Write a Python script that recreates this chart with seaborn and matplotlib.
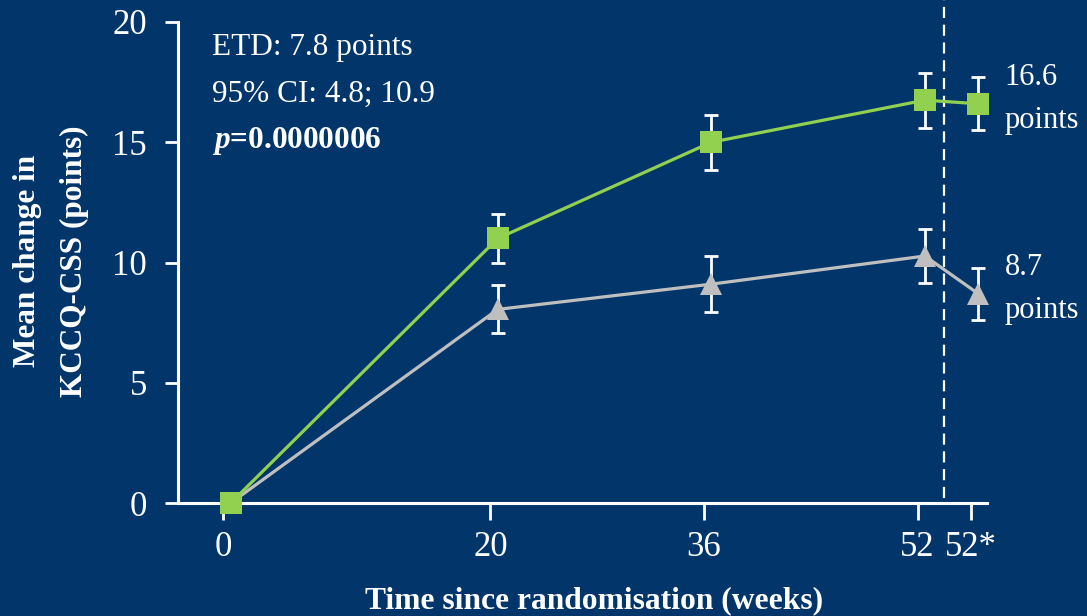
import numpy as np
import pandas as pd
import seaborn as sns
import matplotlib.pyplot as plt

# values
weeks = [0, 20, 36, 52, 56]          # 52* (on-treatment) drawn at 56
tick_labels = ['0', '20', '36', '52', '52*']
treat_mean = [0.0, 11.0, 15.0, 16.75, 16.6]
treat_err = [0.0, 1.0, 1.15, 1.15, 1.1]
placebo_mean = [0.0, 8.05, 9.1, 10.27, 8.7]
placebo_err = [0.0, 1.0, 1.15, 1.12, 1.08]
end_labels = ['16.6', '8.7']
stats_lines = ['ETD: 7.8 points', '95% CI: 4.8; 10.9']
p_text = '=0.0000006'

bg = '#02366A'
green = '#92D050'
grey = '#BFBFBF'
shift = 0.55   # markers sit slightly right of the ticks

sns.set_style('ticks')
plt.rcParams['font.family'] = ['Liberation Serif', 'DejaVu Serif']
plt.rcParams['mathtext.fontset'] = 'custom'
plt.rcParams['mathtext.bfit'] = 'Liberation Serif:italic:bold'
plt.rcParams['mathtext.rm'] = 'Liberation Serif'

df = pd.DataFrame({
    'week': np.array(weeks * 2) + shift,
    'change': placebo_mean + treat_mean,
    'arm': ['Placebo'] * len(weeks) + ['Treatment'] * len(weeks),
})

fig = plt.figure(figsize=(10.87, 6.16), dpi=100, facecolor=bg)
ax = fig.add_axes([178 / 1087, 113 / 616, 809 / 1087, 481 / 616])
ax.set_facecolor(bg)

# error bars (not at baseline)
ax.errorbar(np.array(weeks[1:]) + shift, treat_mean[1:], yerr=treat_err[1:], fmt='none',
            ecolor='white', elinewidth=2, capsize=4.7, capthick=2, zorder=2)
ax.errorbar(np.array(weeks[1:]) + shift, placebo_mean[1:], yerr=placebo_err[1:], fmt='none',
            ecolor='white', elinewidth=2, capsize=4.7, capthick=2, zorder=2)

sns.lineplot(data=df, x='week', y='change', hue='arm', style='arm',
             hue_order=['Placebo', 'Treatment'], style_order=['Placebo', 'Treatment'],
             palette={'Treatment': green, 'Placebo': grey},
             markers={'Treatment': 's', 'Placebo': '^'}, dashes=False,
             markersize=16.5, markeredgewidth=0, linewidth=2.3,
             errorbar=None, legend=False, ax=ax)
for ln in ax.lines:
    if ln.get_color() in (green, grey):
        ln.set_clip_on(False)
        ln.set_zorder(4 if ln.get_color() == green else 3)

# dashed separator between 52 and 52*
ax.axvline(54, ymin=0.01, ymax=1.046, color='white', lw=1.6,
           linestyle=(0, (5, 3)), clip_on=False, zorder=1)

ax.set_xlim(-3.4, 57.2)
ax.set_ylim(0, 20)
ax.set_xticks(weeks)
ax.set_xticklabels(tick_labels)
ax.set_yticks([0, 5, 10, 15, 20])
ax.set_xlabel('')
ax.set_ylabel('')

for s in ['top', 'right']:
    ax.spines[s].set_visible(False)
for s in ['left', 'bottom']:
    ax.spines[s].set_color('white')
    ax.spines[s].set_linewidth(2.2)
ax.tick_params(axis='y', colors='white', labelsize=25, length=9.5, width=2, pad=13)
ax.tick_params(axis='x', colors='white', labelsize=25, length=12, width=2, pad=8)

# end-of-line labels
for val, txt in zip([treat_mean[-1], placebo_mean[-1]], end_labels):
    ax.annotate(txt, xy=(weeks[-1] + shift, val), xytext=(19, 13.5), textcoords='offset points',
                ha='left', va='baseline', color='white', fontsize=22)
    ax.annotate('points', xy=(weeks[-1] + shift, val), xytext=(19, -17.5), textcoords='offset points',
                ha='left', va='baseline', color='white', fontsize=22)

# statistics box text
for i, line in enumerate(stats_lines):
    fig.text(212 / 1087, 1 - (55 + 47 * i) / 616, line, color='white', fontsize=22.5,
             ha='left', va='baseline')
fig.text(212 / 1087, 1 - 148 / 616, r'$\mathbfit{p}$' + p_text, color='white', fontsize=22.5,
         fontweight='bold', ha='left', va='baseline')

# axis titles
fig.text(35 / 1087, 1 - 261 / 616, 'Mean change in', rotation=90, rotation_mode='anchor',
         ha='center', va='baseline', color='white', fontsize=22.5, fontweight='bold')
fig.text(82 / 1087, 1 - 261 / 616, 'KCCQ-CSS (points)', rotation=90, rotation_mode='anchor',
         ha='center', va='baseline', color='white', fontsize=22.5, fontweight='bold')
fig.text(594 / 1087, 1 - 608 / 616, 'Time since randomisation (weeks)', ha='center',
         va='baseline', color='white', fontsize=22.7, fontweight='bold')

fig.savefig('out.png', dpi=100, facecolor=bg)
